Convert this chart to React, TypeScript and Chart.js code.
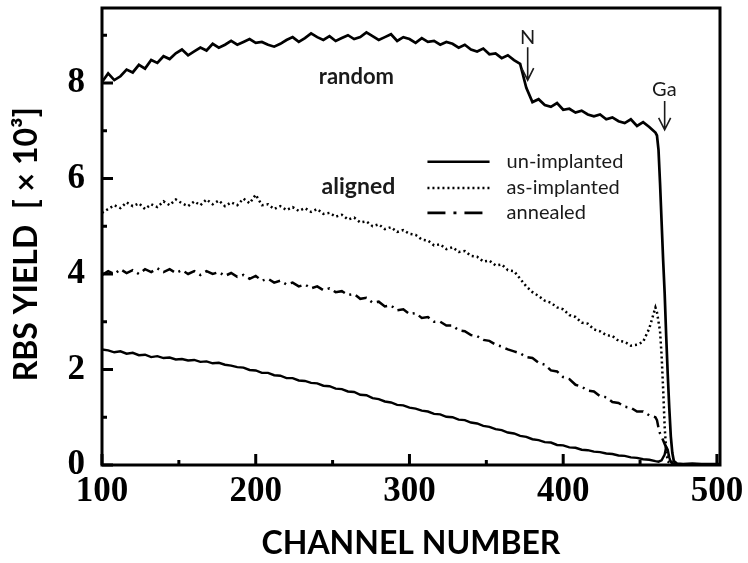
import { useEffect, useRef } from 'react';
import { Chart, registerables } from 'chart.js';

Chart.register(...registerables);

// ---------- axis ranges & ticks ----------
const xMin = 100;
const xMax = 502;
const yMin = 0;
const yMax = 9.57;
const xMajorTicks = [100, 200, 300, 400, 500];
const xMinorTicks = [150, 250, 350, 450];
const yMajorTicks = [0, 2, 4, 6, 8];
const yMinorTicks = [1, 3, 5, 7, 9];

// ---------- data (channel number, yield x10^3) ----------
const channels = [
  100, 104, 108, 112, 116, 120, 124, 128, 132, 136,
  140, 144, 148, 152, 156, 160, 164, 168, 172, 176,
  180, 184, 188, 192, 196, 200, 204, 208, 212, 216,
  220, 224, 228, 232, 236, 240, 244, 248, 252, 256,
  260, 264, 268, 272, 276, 280, 284, 288, 292, 296,
  300, 304, 308, 312, 316, 320, 324, 328, 332, 336,
  340, 344, 348, 352, 356, 360, 364, 368, 372, 376,
  380, 384, 388, 392, 396, 400, 404, 408, 412, 416,
  420, 424, 428, 432, 436, 440, 444, 448, 452, 456,
  460,
];

const randomYield = [
  8.02, 8.20, 8.06, 8.14, 8.28, 8.22, 8.38, 8.30, 8.48, 8.42,
  8.56, 8.50, 8.62, 8.70, 8.58, 8.66, 8.74, 8.68, 8.82, 8.74,
  8.80, 8.88, 8.80, 8.86, 8.92, 8.84, 8.86, 8.80, 8.76, 8.82,
  8.90, 8.96, 8.86, 8.94, 9.04, 8.96, 8.90, 8.98, 8.88, 8.94,
  9.00, 8.92, 8.96, 9.06, 8.98, 8.90, 8.96, 9.02, 8.88, 8.96,
  8.92, 8.84, 8.94, 8.86, 8.88, 8.80, 8.86, 8.82, 8.74, 8.80,
  8.70, 8.66, 8.72, 8.60, 8.62, 8.52, 8.58, 8.48, 8.40, 7.90,
  7.60, 7.66, 7.54, 7.50, 7.58, 7.44, 7.46, 7.38, 7.42, 7.34,
  7.30, 7.34, 7.24, 7.28, 7.20, 7.16, 7.24, 7.10, 7.18, 7.08,
  6.96,
];
const randomTailCh = [461, 462, 463, 464, 465, 466, 467, 468, 469, 470, 471, 472, 474, 478, 484, 490, 496, 502];
const randomTailYield = [6.9, 6.6, 5.9, 5.1, 4.3, 3.6, 2.7, 1.9, 1.2, 0.6, 0.25, 0.08, 0.03, 0.02, 0.03, 0.02, 0.02, 0.02];

const asImplantedYield = [
  5.28, 5.36, 5.44, 5.38, 5.50, 5.42, 5.48, 5.36, 5.46, 5.40,
  5.52, 5.44, 5.56, 5.48, 5.42, 5.52, 5.44, 5.56, 5.46, 5.54,
  5.42, 5.50, 5.44, 5.58, 5.48, 5.66, 5.44, 5.46, 5.36, 5.42,
  5.34, 5.40, 5.32, 5.38, 5.30, 5.36, 5.26, 5.28, 5.20, 5.24,
  5.14, 5.18, 5.08, 5.10, 5.00, 5.04, 4.94, 4.98, 4.88, 4.92,
  4.84, 4.82, 4.72, 4.70, 4.60, 4.62, 4.52, 4.56, 4.46, 4.48,
  4.38, 4.36, 4.26, 4.28, 4.18, 4.20, 4.08, 4.06, 3.90, 3.74,
  3.62, 3.54, 3.44, 3.40, 3.30, 3.26, 3.14, 3.10, 2.98, 2.96,
  2.84, 2.80, 2.72, 2.70, 2.60, 2.58, 2.50, 2.52, 2.58, 2.86,
  3.30,
];
const asImplantedTailCh = [461, 462, 463, 464, 465, 466, 467, 468, 470];
const asImplantedTailYield = [3.2, 3.0, 2.8, 2.3, 1.6, 0.8, 0.3, 0.08, 0.02];

const annealedYield = [
  3.98, 4.06, 4.00, 4.10, 4.02, 4.08, 4.00, 4.10, 4.04, 4.12,
  4.04, 4.10, 4.02, 4.08, 4.00, 4.06, 3.98, 4.06, 4.00, 4.04,
  3.96, 4.02, 3.94, 3.98, 3.90, 3.96, 3.86, 3.90, 3.82, 3.86,
  3.78, 3.82, 3.74, 3.78, 3.70, 3.74, 3.66, 3.70, 3.62, 3.64,
  3.56, 3.58, 3.48, 3.50, 3.40, 3.42, 3.32, 3.34, 3.24, 3.26,
  3.16, 3.18, 3.08, 3.10, 3.00, 3.00, 2.92, 2.92, 2.82, 2.80,
  2.72, 2.70, 2.62, 2.60, 2.52, 2.48, 2.42, 2.38, 2.34, 2.26,
  2.24, 2.14, 2.10, 1.98, 1.96, 1.84, 1.80, 1.68, 1.64, 1.56,
  1.54, 1.44, 1.42, 1.32, 1.30, 1.22, 1.20, 1.12, 1.12, 1.04,
  1.00,
];
const annealedTailCh = [461, 462, 463, 465, 467, 469, 471, 473];
const annealedTailYield = [0.94, 0.78, 0.66, 0.52, 0.36, 0.16, 0.04, 0.01];

const unImplantedYield = [
  2.42, 2.40, 2.36, 2.38, 2.33, 2.35, 2.30, 2.31, 2.26, 2.28,
  2.24, 2.25, 2.21, 2.22, 2.19, 2.20, 2.16, 2.17, 2.13, 2.14,
  2.10, 2.08, 2.05, 2.04, 1.99, 1.98, 1.93, 1.93, 1.88, 1.87,
  1.82, 1.82, 1.77, 1.76, 1.72, 1.71, 1.66, 1.65, 1.60, 1.59,
  1.54, 1.53, 1.47, 1.46, 1.40, 1.38, 1.33, 1.31, 1.26, 1.25,
  1.20, 1.18, 1.14, 1.12, 1.07, 1.06, 1.01, 1.00, 0.95, 0.94,
  0.89, 0.87, 0.82, 0.80, 0.75, 0.73, 0.68, 0.66, 0.61, 0.59,
  0.54, 0.52, 0.48, 0.47, 0.42, 0.41, 0.37, 0.36, 0.32, 0.31,
  0.28, 0.27, 0.24, 0.23, 0.20, 0.19, 0.16, 0.15, 0.12, 0.11,
  0.08,
];
const unImplantedTailCh = [462, 464, 466, 467, 468, 469, 470, 472, 476];
const unImplantedTailYield = [0.07, 0.1, 0.22, 0.38, 0.32, 0.16, 0.06, 0.01, 0.0];

const legendLabels = ['un-implanted', 'as-implanted', 'annealed'];

// ---------- styles ----------
const SANS = 'Lato, "Open Sans", sans-serif';
const dotted = [2, 3];
const dashDot = [12, 5, 2, 5];

function pts(xs: number[], ys: number[]) {
  return xs.map((x, i) => ({ x, y: ys[i] }));
}

const framePlugin = {
  id: 'frameTicks',
  afterDraw(chart: any) {
    const { ctx, chartArea: a, scales } = chart;
    const xs = scales.x;
    const ys = scales.y;
    ctx.save();
    ctx.strokeStyle = '#000';
    ctx.lineWidth = 3;
    ctx.strokeRect(a.left, a.top, a.right - a.left, a.bottom - a.top);
    ctx.beginPath();
    xMajorTicks.forEach((v) => {
      const px = xs.getPixelForValue(v);
      ctx.moveTo(px, a.bottom);
      ctx.lineTo(px, a.bottom - 11);
    });
    xMinorTicks.forEach((v) => {
      const px = xs.getPixelForValue(v);
      ctx.moveTo(px, a.bottom);
      ctx.lineTo(px, a.bottom - 5);
    });
    yMajorTicks.forEach((v) => {
      const py = ys.getPixelForValue(v);
      ctx.moveTo(a.left, py);
      ctx.lineTo(a.left + 11, py);
    });
    yMinorTicks.forEach((v) => {
      const py = ys.getPixelForValue(v);
      ctx.moveTo(a.left, py);
      ctx.lineTo(a.left + 5, py);
    });
    ctx.stroke();
    ctx.restore();
  },
};

function arrow(ctx: CanvasRenderingContext2D, x: number, y0: number, y1: number) {
  ctx.beginPath();
  ctx.moveTo(x, y0);
  ctx.lineTo(x, y1);
  ctx.moveTo(x - 6, y1 - 12);
  ctx.lineTo(x, y1);
  ctx.lineTo(x + 6, y1 - 12);
  ctx.stroke();
}

const annotationPlugin = {
  id: 'annotations',
  afterDatasetsDraw(chart: any) {
    const { ctx, scales } = chart;
    const X = (v: number) => scales.x.getPixelForValue(v);
    const Y = (v: number) => scales.y.getPixelForValue(v);
    ctx.save();
    ctx.fillStyle = '#1a1a1a';
    ctx.strokeStyle = '#1a1a1a';
    ctx.textAlign = 'center';
    ctx.textBaseline = 'middle';
    ctx.font = `bold 22px ${SANS}`;
    ctx.fillText('random', X(265.5), Y(8.13));
    ctx.font = `bold 23px ${SANS}`;
    ctx.fillText('aligned', X(266.8), Y(5.84));
    ctx.font = `20px ${SANS}`;
    ctx.fillText('N', X(376.9), Y(8.96));
    ctx.fillText('Ga', X(465.8), Y(7.87));
    ctx.lineWidth = 1.6;
    arrow(ctx, X(376.9), Y(8.75), Y(8.06));
    arrow(ctx, X(466), Y(7.62), Y(7.02));

    // legend
    const rows = [6.35, 5.8, 5.28];
    const dashes = [[], dotted, [18, 8, 3, 8]];
    const widths = [2.5, 2.5, 2.8];
    ctx.textAlign = 'left';
    ctx.font = `20px ${SANS}`;
    rows.forEach((r, i) => {
      const py = Y(r);
      ctx.save();
      ctx.strokeStyle = '#000';
      ctx.lineWidth = widths[i];
      ctx.setLineDash(dashes[i]);
      ctx.beginPath();
      ctx.moveTo(X(311.7), py);
      ctx.lineTo(X(352.1), py);
      ctx.stroke();
      ctx.restore();
      ctx.fillText(legendLabels[i], X(363.2), py);
    });
    ctx.restore();
  },
};

export default function App() {
  const ref = useRef<HTMLCanvasElement>(null);
  useEffect(() => {
    if (!ref.current) return;
    const chart = new Chart(ref.current, {
      type: 'line',
      data: {
        datasets: [
          {
            label: 'random',
            data: pts(channels, randomYield).concat(pts(randomTailCh, randomTailYield)),
            borderColor: '#000',
            borderWidth: 2.7,
          },
          {
            label: legendLabels[1],
            data: pts(channels, asImplantedYield).concat(pts(asImplantedTailCh, asImplantedTailYield)),
            borderColor: '#000',
            borderWidth: 2.5,
            borderDash: dotted,
          },
          {
            label: legendLabels[2],
            data: pts(channels, annealedYield).concat(pts(annealedTailCh, annealedTailYield)),
            borderColor: '#000',
            borderWidth: 2.5,
            borderDash: dashDot,
          },
          {
            label: legendLabels[0],
            data: pts(channels, unImplantedYield).concat(pts(unImplantedTailCh, unImplantedTailYield)),
            borderColor: '#000',
            borderWidth: 2.4,
          },
        ],
      },
      options: {
        animation: false,
        responsive: false,
        maintainAspectRatio: false,
        parsing: false,
        normalized: true,
        layout: { padding: { top: 8, right: 28, left: 0, bottom: 0 } },
        elements: { point: { radius: 0 }, line: { tension: 0 } },
        plugins: { legend: { display: false }, tooltip: { enabled: false } },
        scales: {
          x: {
            type: 'linear',
            min: xMin,
            max: xMax,
            border: { display: false },
            grid: { display: false, drawTicks: false },
            afterBuildTicks: (s: any) => {
              s.ticks = xMajorTicks.map((v) => ({ value: v }));
            },
            ticks: {
              autoSkip: false,
              maxRotation: 0,
              padding: 6,
              color: '#000',
              callback: (v: any) => String(v),
              font: { family: '"Liberation Serif", serif', weight: 'bold', size: 35 },
            },
            title: {
              display: true,
              text: 'CHANNEL NUMBER',
              color: '#000',
              font: { family: SANS, weight: 'bold', size: 32, lineHeight: 1.2 },
              padding: { top: 0, bottom: 0 },
            },
            afterFit: (s: any) => {
              s.height = 98;
              s.paddingLeft = 0;
              s.paddingRight = 0;
            },
          },
          y: {
            type: 'linear',
            min: yMin,
            max: yMax,
            border: { display: false },
            grid: { display: false, drawTicks: false },
            afterBuildTicks: (s: any) => {
              s.ticks = yMajorTicks.map((v) => ({ value: v }));
            },
            ticks: {
              padding: 17,
              color: '#000',
              callback: (v: any) => String(v),
              font: { family: '"Liberation Serif", serif', weight: 'bold', size: 35 },
            },
            title: {
              display: true,
              text: 'RBS YIELD  [ × 10³]  ',
              color: '#000',
              font: { family: SANS, weight: 'bold', size: 32, lineHeight: 1 },
              padding: { top: 11, bottom: 0 },
            },
            afterFit: (s: any) => {
              s.width = 102;
              s.paddingTop = 0;
              s.paddingBottom = 0;
            },
          },
        },
      },
      plugins: [annotationPlugin, framePlugin],
    } as any);
    return () => chart.destroy();
  }, []);
  return (
    <div style={{ position: 'fixed', left: 0, top: 0, width: 748, height: 563, background: '#fff' }}>
      <canvas ref={ref} width={748} height={563} style={{ width: 748, height: 563 }} />
    </div>
  );
}
